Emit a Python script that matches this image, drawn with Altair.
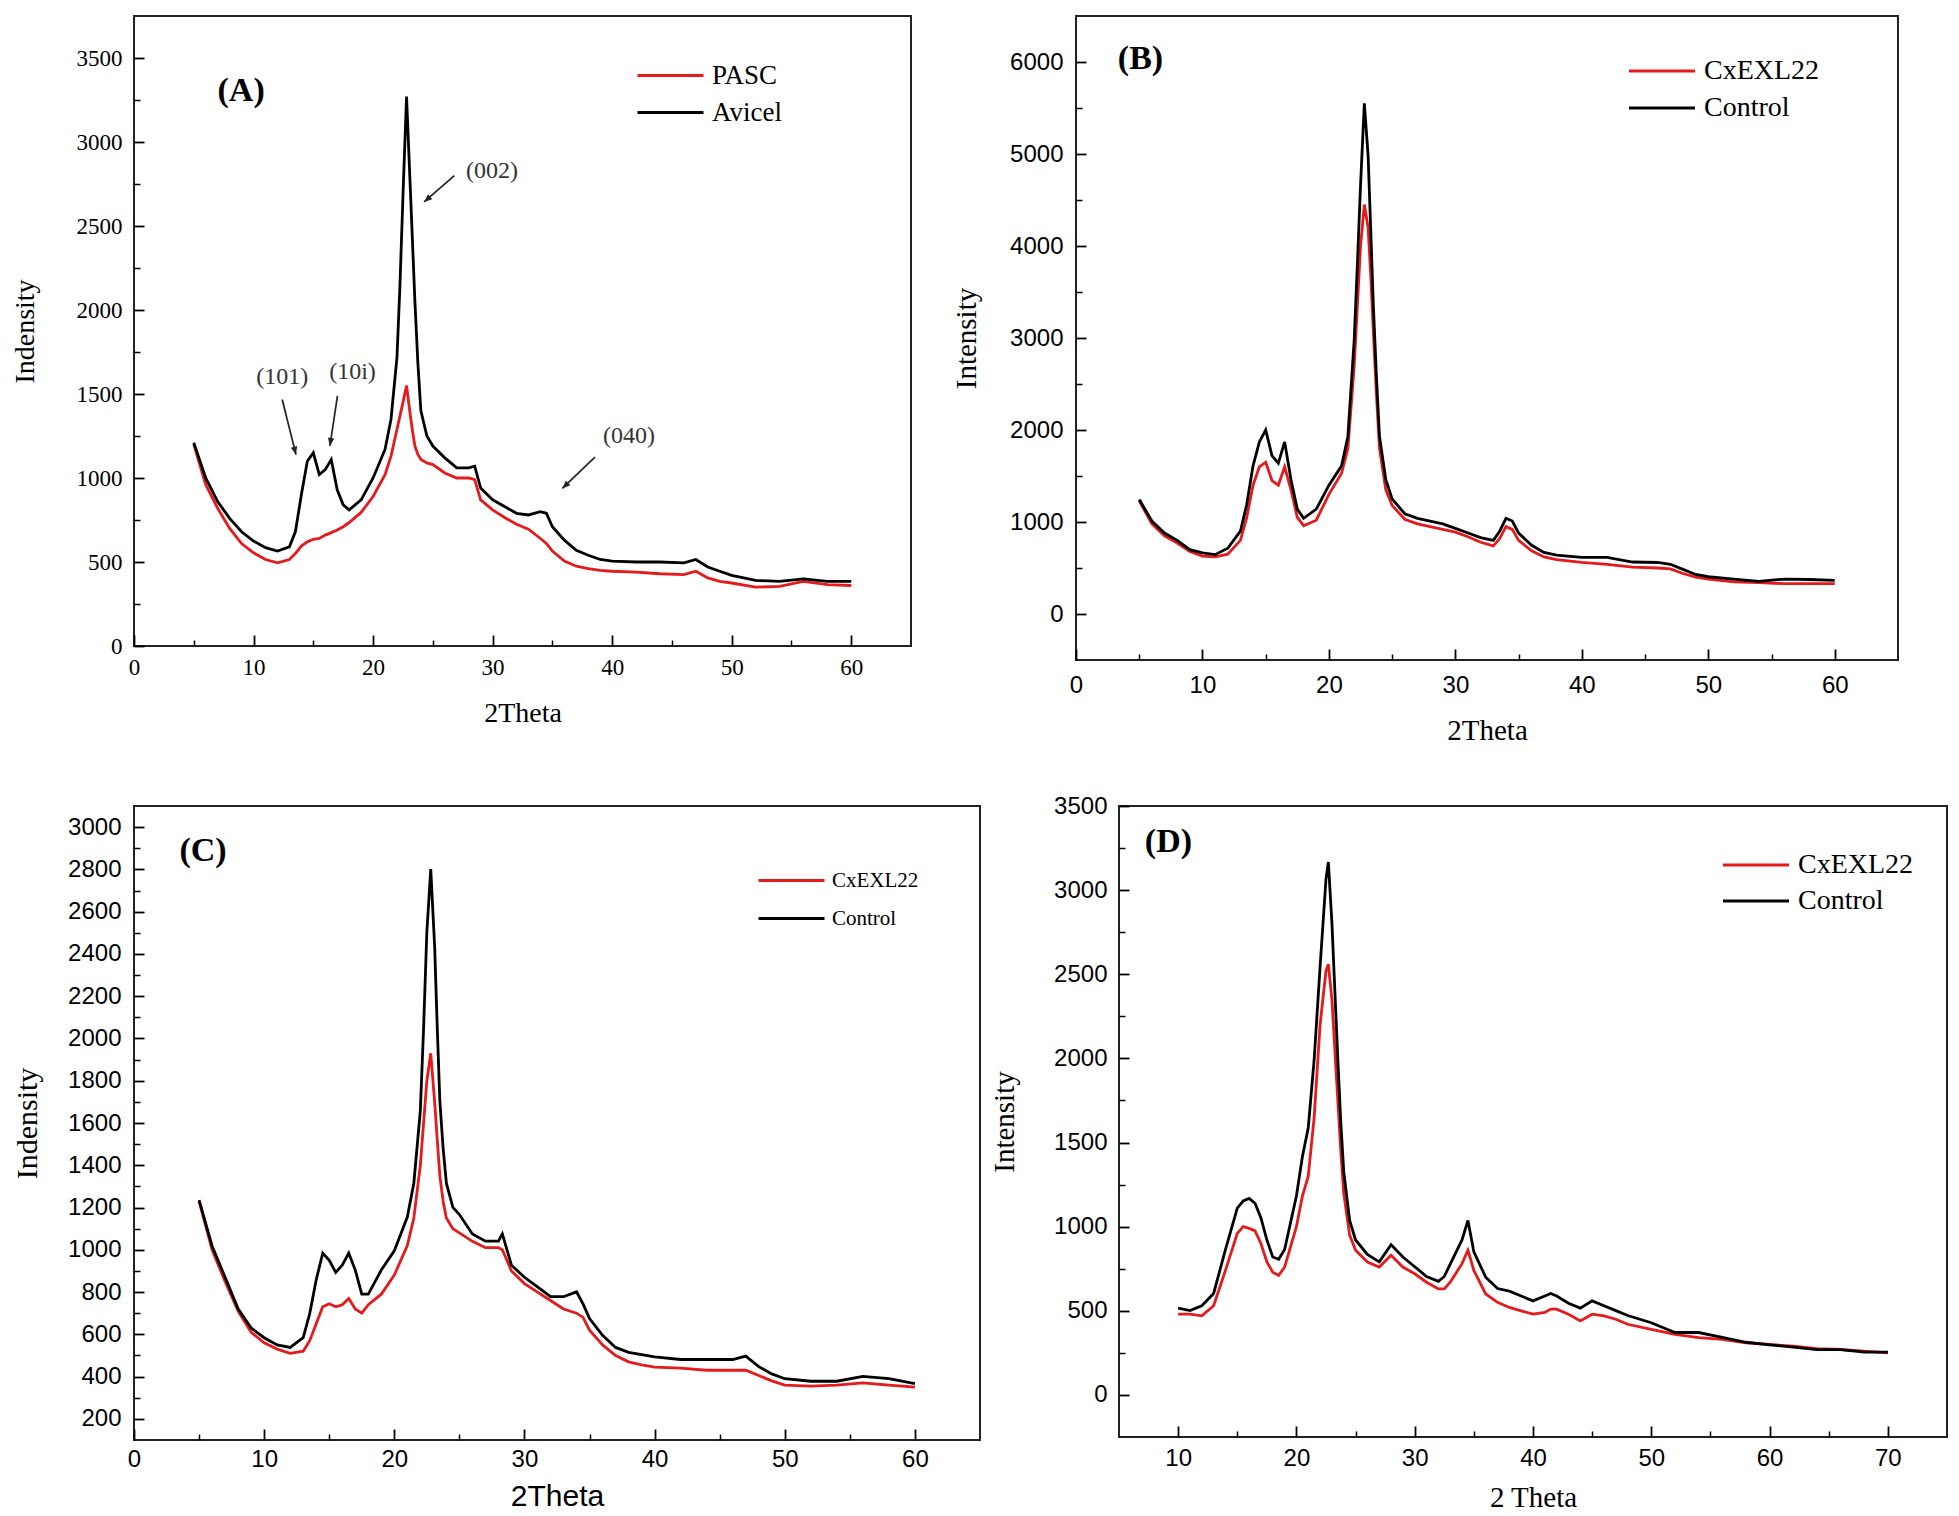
import math
import altair as alt
import pandas as pd

RED = "#e41a1c"
BLACK = "#000000"
SERIF = "Liberation Serif"
SANS = "Liberation Sans"

# ---------------- Panel A ----------------
A_x = [5, 6, 7, 8, 9, 10, 11, 12, 13, 13.5, 14, 14.5, 15, 15.5, 16, 16.5, 17, 17.5, 18, 19,
       20, 21, 21.5, 22, 22.25, 22.5, 22.8, 23.1, 23.3, 23.5, 23.75, 24, 24.5, 25, 26, 27, 28, 28.5, 29, 30, 31, 32, 33,
       34, 34.5, 35, 36, 37, 38, 39, 40, 42, 44, 46, 47, 48, 49, 50, 52, 54, 56, 58, 60]
A_pasc = [1200, 960, 820, 700, 610, 555, 515, 495, 515, 550, 595, 620, 635, 640, 660, 675, 690, 710, 735, 795,
          890, 1020, 1130, 1290, 1370, 1450, 1550, 1380, 1280, 1190, 1140, 1110, 1090, 1080, 1030, 1000, 1000, 990, 870, 810, 765, 725, 695,
          640, 610, 565, 505, 475, 460, 450, 445, 440, 430, 425, 445, 405, 385, 375, 350, 355, 385, 365, 360]
A_avicel = [1210, 1000, 860, 760, 680, 625, 585, 565, 590, 680, 900, 1100, 1150, 1020, 1050, 1110, 930, 840, 810, 870,
            1000, 1170, 1350, 1720, 2150, 2680, 3270, 2750, 2400, 2050, 1680, 1400, 1250, 1190, 1120, 1060, 1060, 1070, 940, 870, 830, 790, 780,
            800, 790, 710, 630, 570, 540, 515, 505, 500, 500, 495, 515, 470, 445, 420, 390, 385, 400, 385, 385]
A_names = ["PASC", "Avicel"]
A_ann_text = ["(002)", "(101)", "(10i)", "(040)"]
A_ann_x = [29.95, 12.4, 18.28, 41.4]
A_ann_y = [2830, 1601, 1631, 1251]
A_arrow_x1 = [26.8, 12.4, 17.02, 38.56]
A_arrow_y1 = [2800, 1467, 1489, 1124]
A_arrow_x2 = [24.27, 13.55, 16.39, 35.83]
A_arrow_y2 = [2643, 1139, 1191, 938]

# ---------------- Panel B ----------------
B_x = [5, 6, 7, 8, 9, 10, 11, 12, 13, 13.5, 14, 14.5, 15, 15.5, 16, 16.5, 17, 17.5, 18, 19,
       20, 21, 21.5, 22, 22.25, 22.5, 22.8, 23.1, 23.3, 23.5, 23.75, 24, 24.5, 25, 26, 27, 28, 29, 30, 31, 32, 33, 33.5,
       34, 34.5, 35, 36, 37, 38, 40, 42, 44, 46, 47, 48, 49, 50, 52, 54, 56, 58, 60]
B_cxexl22 = [1230, 980, 850, 770, 680, 630, 620, 650, 800, 1050, 1400, 1600, 1650, 1450, 1400, 1600, 1350, 1050, 960, 1020,
             1300, 1530, 1800, 2700, 3350, 4000, 4450, 4200, 3700, 3100, 2400, 1800, 1350, 1180, 1030, 980, 950, 920, 890, 840, 780, 740, 820,
             950, 920, 800, 690, 620, 590, 560, 540, 510, 500, 490, 440, 400, 380, 350, 340, 330, 330, 330]
B_control = [1245, 1010, 880, 800, 700, 665, 645, 715, 900, 1190, 1610, 1870, 2000, 1720, 1640, 1870, 1460, 1140, 1040, 1140,
             1400, 1610, 1930, 2980, 3800, 4660, 5550, 4980, 4200, 3400, 2600, 1930, 1460, 1250, 1090, 1040, 1010, 980, 930, 880, 830, 800, 900,
             1040, 1010, 880, 750, 670, 640, 615, 615, 565, 560, 540, 485, 430, 405, 380, 355, 380, 375, 365]
B_names = ["CxEXL22", "Control"]

# ---------------- Panel C ----------------
C_x = [5, 6, 7, 8, 9, 10, 11, 12, 13, 13.5, 14, 14.5, 15, 15.5, 16, 16.5, 17, 17.5, 18, 19,
       20, 21, 21.5, 22, 22.25, 22.5, 22.8, 23.1, 23.3, 23.5, 23.75, 24, 24.5, 25, 26, 27, 28, 28.3, 29, 30, 31, 32, 33,
       34, 34.5, 35, 36, 37, 38, 39, 40, 42, 44, 46, 47, 48, 49, 50, 52, 54, 56, 58, 60]
C_cxexl22 = [1230, 1000, 850, 710, 610, 560, 530, 510, 520, 570, 650, 730, 745, 730, 740, 770, 720, 700, 740, 790,
             880, 1020, 1150, 1400, 1600, 1800, 1930, 1700, 1520, 1350, 1230, 1150, 1100, 1080, 1040, 1010, 1010, 1000, 900, 840, 800, 760, 720,
             700, 680, 620, 550, 500, 470, 455, 445, 440, 430, 430, 430, 405, 380, 360, 355, 360, 370, 360, 350]
C_control = [1235, 1018, 870, 721, 630, 584, 550, 538, 584, 698, 858, 984, 950, 893, 927, 984, 904, 790, 790, 904,
             995, 1155, 1315, 1658, 2050, 2504, 2801, 2435, 2050, 1704, 1480, 1315, 1201, 1167, 1075, 1041, 1041, 1075, 927, 870, 824, 778, 778,
             801, 744, 675, 595, 538, 515, 504, 493, 481, 481, 481, 497, 447, 413, 390, 378, 378, 401, 390, 367]
C_names = ["CxEXL22", "Control"]

# ---------------- Panel D ----------------
D_x = [10, 11, 12, 13, 14, 15, 15.5, 16, 16.5, 17, 17.5, 18, 18.5, 19, 20, 20.5, 21, 21.5, 22, 22.5,
       22.7, 23, 23.25, 23.5, 23.75, 24, 24.5, 25, 26, 27, 28, 29, 30, 31, 32, 32.5, 33, 34, 34.5, 35, 36, 37,
       38, 39, 40, 41, 41.5, 42, 43, 44, 45, 46, 47, 48, 50, 52, 54, 56, 58, 60, 62, 64, 66, 68, 70]
D_cxexl22 = [480, 480, 470, 530, 740, 960, 1000, 990, 975, 900, 790, 730, 710, 760, 1000, 1180, 1300, 1650, 2200, 2520,
             2560, 2350, 2050, 1750, 1450, 1200, 950, 860, 790, 760, 830, 760, 720, 670, 630, 630, 670, 780, 860, 740, 600, 550,
             520, 500, 480, 490, 510, 510, 480, 440, 480, 470, 450, 420, 390, 360, 340, 330, 310, 300, 290, 275, 270, 260, 250]
D_control = [516, 501, 530, 603, 864, 1110, 1153, 1168, 1139, 1052, 921, 820, 806, 864, 1182, 1414, 1588, 1994, 2544, 3066,
             3167, 2805, 2400, 1994, 1620, 1327, 1037, 921, 835, 791, 893, 820, 762, 704, 675, 704, 777, 921, 1037, 850, 700, 632,
             617, 588, 559, 588, 603, 588, 545, 516, 559, 530, 501, 472, 429, 371, 371, 342, 313, 298, 284, 269, 269, 255, 255]
D_names = ["CxEXL22", "Control"]

X_TICKS_60 = [0, 10, 20, 30, 40, 50, 60]
X_MINOR_60 = [5, 15, 25, 35, 45, 55]


def tick_axis(orient, values, size, width):
    return alt.Axis(orient=orient, values=values, labels=False, domain=False, grid=False,
                    ticks=True, tickSize=size, tickWidth=width, tickColor="black",
                    offset=-size, title=None)


def make_panel(p):
    xs = alt.Scale(domain=p["xdom"], nice=False, zero=False)
    ys = alt.Scale(domain=p["ydom"], nice=False, zero=False)
    names = p["names"]
    n = len(p["x"])
    df = pd.DataFrame({"x": list(p["x"]) * 2,
                       "y": list(p["red"]) + list(p["black"]),
                       "series": [names[0]] * n + [names[1]] * n})
    legend = alt.Legend(orient="none", legendX=p["lx"], legendY=p["ly"], title=None,
                        symbolType="M-1,0H5", symbolSize=484, symbolStrokeWidth=3,
                        labelFont=p["legfont"], labelFontSize=p["legsize"], labelColor="black",
                        labelOffset=50, rowPadding=p["rowpad"], padding=0)
    color = alt.Color("series:N", scale=alt.Scale(domain=names, range=[RED, BLACK]), legend=legend)
    xlab = alt.Axis(orient="bottom", values=p["xticks"], format="d", ticks=False, domain=False, grid=False,
                    labelFont=p["tickfont"], labelFontSize=p["ticksize"], labelColor="black",
                    labelPadding=p["xlp"], labelFlush=False, labelOverlap=False,
                    title=p["xtitle"], titleFont=p["xtitlefont"], titleFontSize=p["titlesize"],
                    titleFontWeight="normal", titleColor="black", titlePadding=p["xtp"])
    ylab = alt.Axis(orient="left", values=p["yticks"], format="d", ticks=False, domain=False, grid=False,
                    labelFont=p["tickfont"], labelFontSize=p["ticksize"], labelColor="black",
                    labelPadding=p["ylp"], labelFlush=False, labelOverlap=False,
                    title=p["ytitle"], titleFont=p["ytitlefont"], titleFontSize=p["titlesize"],
                    titleFontWeight="normal", titleColor="black", titlePadding=p["ytp"])
    base = alt.Chart(df)
    red = base.transform_filter(alt.datum.series == names[0]).mark_line(strokeWidth=2.8).encode(
        x=alt.X("x:Q", scale=xs, axis=xlab), y=alt.Y("y:Q", scale=ys, axis=ylab), color=color)
    black = base.transform_filter(alt.datum.series == names[1]).mark_line(strokeWidth=2.8).encode(
        x=alt.X("x:Q", scale=xs, axis=None), y=alt.Y("y:Q", scale=ys, axis=None), color=color)
    major = base.mark_point(opacity=0, size=1).encode(
        x=alt.X("x:Q", scale=xs, axis=tick_axis("bottom", p["xticks"], 11, 1.8)),
        y=alt.Y("y:Q", scale=ys, axis=tick_axis("left", p["yticks"], 10, 1.8)))
    minor = base.mark_point(opacity=0, size=1).encode(
        x=alt.X("x:Q", scale=xs, axis=tick_axis("bottom", p["xminor"], 6, 1.5)),
        y=alt.Y("y:Q", scale=ys, axis=tick_axis("left", p["yminor"], 6, 1.5)))
    tag = alt.Chart(pd.DataFrame({"x": [p["tagx"]], "y": [p["tagy"]], "t": [p["tag"]]})).mark_text(
        font=SERIF, fontSize=34, fontWeight="bold", color="black").encode(
        x=alt.X("x:Q", scale=xs, axis=None), y=alt.Y("y:Q", scale=ys, axis=None), text="t:N")
    layers = [red, black, major, minor, tag]

    if "arrows" in p:
        a = p["arrows"]
        kx = p["w"] / (p["xdom"][1] - p["xdom"][0])
        ky = p["h"] / (p["ydom"][1] - p["ydom"][0])
        angs = []
        for x1, y1, x2, y2 in zip(a["x1"], a["y1"], a["x2"], a["y2"]):
            dx = (x2 - x1) * kx
            dy = -(y2 - y1) * ky
            angs.append(math.degrees(math.atan2(dy, dx)) % 360)
        adf = pd.DataFrame({"x": a["x1"], "y": a["y1"], "x2": a["x2"], "y2": a["y2"], "ang": angs})
        rules = alt.Chart(adf).mark_rule(color="#222222", strokeWidth=1.7).encode(
            x=alt.X("x:Q", scale=xs, axis=None), y=alt.Y("y:Q", scale=ys, axis=None),
            x2="x2:Q", y2="y2:Q")
        heads = alt.Chart(adf).mark_point(shape="M0,0L-2,-0.8L-2,0.8Z", filled=True, size=64,
                                          color="#222222", opacity=1).encode(
            x=alt.X("x2:Q", scale=xs, axis=None), y=alt.Y("y2:Q", scale=ys, axis=None),
            angle=alt.Angle("ang:Q", scale=None))
        tdf = pd.DataFrame({"x": a["tx"], "y": a["ty"], "t": a["text"]})
        texts = alt.Chart(tdf).mark_text(font=SERIF, fontSize=24, color="#333333").encode(
            x=alt.X("x:Q", scale=xs, axis=None), y=alt.Y("y:Q", scale=ys, axis=None), text="t:N")
        layers += [rules, heads, texts]

    return alt.layer(*layers).properties(width=p["w"], height=p["h"]).resolve_axis(
        x="independent", y="independent")


panelA = make_panel(dict(
    x=A_x, red=A_pasc, black=A_avicel, names=A_names, xdom=[0, 65], ydom=[0, 3750], w=777, h=630,
    xticks=X_TICKS_60, xminor=X_MINOR_60, yticks=list(range(0, 3501, 500)), yminor=list(range(250, 3300, 500)),
    tickfont=SERIF, ticksize=23, xtitle="2Theta", ytitle="Indensity", xtitlefont=SERIF, ytitlefont=SERIF,
    titlesize=28, xlp=10, xtp=20, ylp=12, ytp=37,
    lx=501, ly=46, legfont=SERIF, legsize=27, rowpad=9,
    tag="(A)", tagx=8.96, tagy=3304,
    arrows=dict(x1=A_arrow_x1, y1=A_arrow_y1, x2=A_arrow_x2, y2=A_arrow_y2,
                tx=A_ann_x, ty=A_ann_y, text=A_ann_text)))

panelB = make_panel(dict(
    x=B_x, red=B_cxexl22, black=B_control, names=B_names, xdom=[0, 65], ydom=[-500, 6500], w=822, h=644,
    xticks=X_TICKS_60, xminor=X_MINOR_60, yticks=list(range(0, 6001, 1000)), yminor=list(range(500, 6000, 1000)),
    tickfont=SANS, ticksize=24, xtitle="2Theta", ytitle="Intensity", xtitlefont=SERIF, ytitlefont=SERIF,
    titlesize=29, xlp=13, xtp=19, ylp=13, ytp=28,
    lx=550, ly=41, legfont=SERIF, legsize=28, rowpad=9,
    tag="(B)", tagx=5.1, tagy=6035))

panelC = make_panel(dict(
    x=C_x, red=C_cxexl22, black=C_control, names=C_names, xdom=[0, 65], ydom=[100, 3100], w=846, h=634,
    xticks=X_TICKS_60, xminor=X_MINOR_60, yticks=list(range(200, 3001, 200)), yminor=list(range(300, 3000, 200)),
    tickfont=SANS, ticksize=24, xtitle="2Theta", ytitle="Indensity", xtitlefont=SANS, ytitlefont=SERIF,
    titlesize=30, xlp=7, xtp=10, ylp=13, ytp=25,
    lx=623, ly=62, legfont=SERIF, legsize=21, rowpad=15,
    tag="(C)", tagx=5.3, tagy=2885))

panelD = make_panel(dict(
    x=D_x, red=D_cxexl22, black=D_control, names=D_names, xdom=[5, 75], ydom=[-250, 3500], w=828, h=631,
    xticks=[10, 20, 30, 40, 50, 60, 70], xminor=[15, 25, 35, 45, 55, 65],
    yticks=list(range(0, 3501, 500)), yminor=list(range(250, 3300, 500)),
    tickfont=SANS, ticksize=24, xtitle="2 Theta", ytitle="Intensity", xtitlefont=SERIF, ytitlefont=SERIF,
    titlesize=29, xlp=9, xtp=13, ylp=12, ytp=34,
    lx=601, ly=45, legfont=SERIF, legsize=28, rowpad=8,
    tag="(D)", tagx=9.18, tagy=3288))

row1 = alt.hconcat(panelA, panelB, spacing=165, bounds="flush").resolve_scale(
    color="independent").resolve_legend(color="independent")
row2 = alt.hconcat(panelC, panelD, spacing=139, bounds="flush").resolve_scale(
    color="independent").resolve_legend(color="independent")

chart = alt.vconcat(row1, row2, spacing=47).resolve_scale(
    color="independent").resolve_legend(color="independent").configure_view(
    stroke="#222222", strokeWidth=2).properties(
    padding={"left": 2, "top": 7, "right": 0, "bottom": 0})

chart.save("out.html", embed_options={"renderer": "svg", "actions": False})
